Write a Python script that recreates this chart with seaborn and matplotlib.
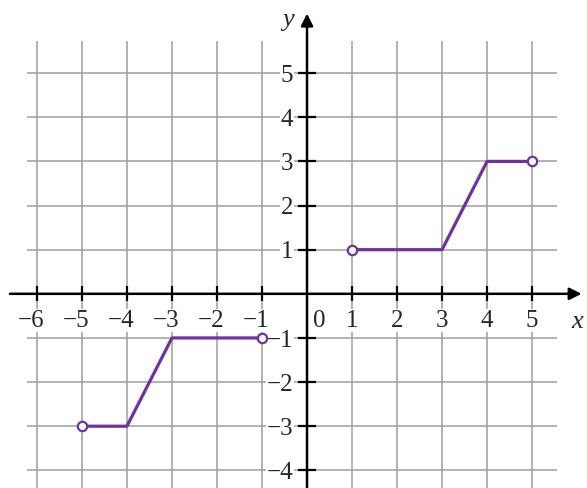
import matplotlib
matplotlib.use("Agg")
import matplotlib.pyplot as plt
import seaborn as sns
import pandas as pd
import numpy as np

# piecewise graph, two pieces
left_x = [-5, -4, -3, -1]
left_y = [-3, -3, -1, -1]
right_x = [1, 3, 4, 5]
right_y = [1, 1, 3, 3]
open_x = [-5, -1, 1, 5]
open_y = [-3, -1, 1, 3]

x_ticks = [-6, -5, -4, -3, -2, -1, 1, 2, 3, 4, 5]
y_ticks = [-4, -3, -2, -1, 1, 2, 3, 4, 5]

PURPLE = "#7030A0"
GRID = "#9e9e9e"
FONT = ["Liberation Serif", "DejaVu Serif"]


def main():
    sns.set_style("white")
    plt.rcParams['font.family'] = FONT

    fig = plt.figure(figsize=(5.87, 4.89), dpi=100)
    ax = fig.add_axes([0, 0, 1, 1])
    ax.set_xlim(-6.82, 6.22)
    ax.set_ylim(-4.4, 6.68)
    ax.axis("off")

    # grid
    ax.vlines(x_ticks, -4.5, 5.72, color=GRID, lw=1.1, zorder=1)
    ax.hlines(y_ticks, -6.22, 5.56, color=GRID, lw=1.1, zorder=1)

    # axes with arrows
    ax.annotate("", xy=(6.1, 0), xytext=(-6.6, 0),
                arrowprops=dict(arrowstyle="-|>", lw=1.8, color="black",
                                mutation_scale=18, shrinkA=0, shrinkB=0), zorder=3)
    ax.annotate("", xy=(0, 6.35), xytext=(0, -4.5),
                arrowprops=dict(arrowstyle="-|>", lw=1.8, color="black",
                                mutation_scale=18, shrinkA=0, shrinkB=0), zorder=3)

    # tick crosses
    ax.vlines(x_ticks, -0.17, 0.17, color="black", lw=1.6, zorder=3)
    ax.hlines(y_ticks, -0.21, 0.21, color="black", lw=1.6, zorder=3)

    # tick labels
    for v in x_ticks:
        lab = f"\u2212{abs(v)}" if v < 0 else str(v)
        off = -0.14 if v < 0 else 0
        ax.text(v + off, -0.6, lab, ha="center", va="center", fontsize=18,
                bbox=dict(fc="white", ec="none", pad=0.3), zorder=2)
    ax.text(0.27, -0.6, "0", ha="center", va="center", fontsize=18, zorder=2)
    for v in y_ticks:
        lab = f"\u2212{abs(v)}" if v < 0 else str(v)
        ax.text(-0.3, v - 0.04, lab, ha="right", va="center", fontsize=18,
                bbox=dict(fc="white", ec="none", pad=0.3), zorder=2)

    ax.text(6.0, -0.62, "x", ha="center", va="center", fontsize=19, style="italic")
    ax.text(-0.42, 6.22, "y", ha="center", va="center", fontsize=19, style="italic")

    # graph
    seg1 = pd.DataFrame({"x": left_x, "y": left_y})
    seg2 = pd.DataFrame({"x": right_x, "y": right_y})
    sns.lineplot(data=seg1, x="x", y="y", sort=False, color=PURPLE, lw=2.3, ax=ax, zorder=4)
    sns.lineplot(data=seg2, x="x", y="y", sort=False, color=PURPLE, lw=2.3, ax=ax, zorder=4)
    pts = pd.DataFrame({"x": open_x, "y": open_y})
    sns.scatterplot(data=pts, x="x", y="y", s=45, facecolor="white", edgecolor=PURPLE,
                    linewidth=1.6, ax=ax, zorder=5)

    fig.savefig("out.png", dpi=100)


if __name__ == "__main__":
    main()
